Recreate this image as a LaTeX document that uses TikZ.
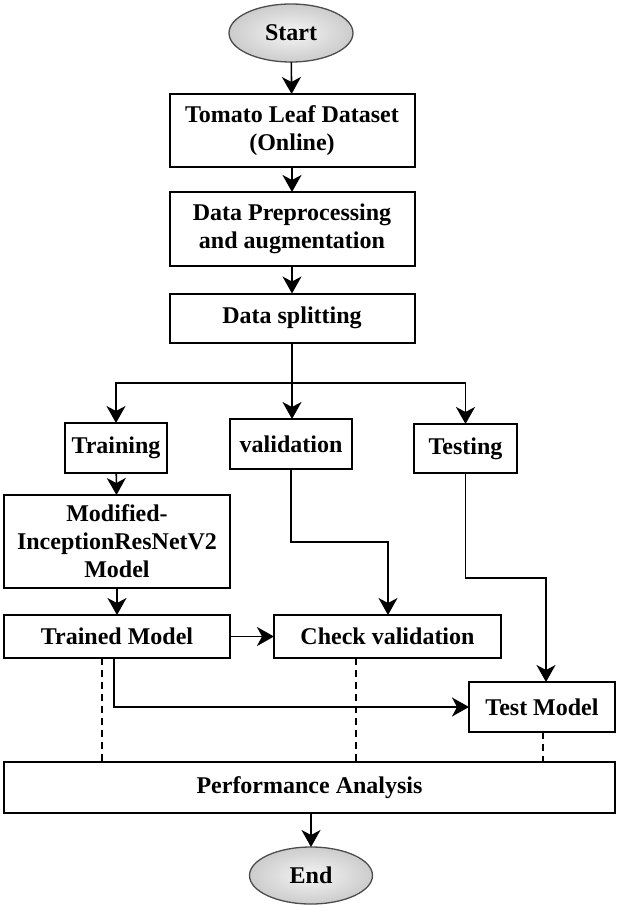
\documentclass[tikz,border=0pt]{standalone}
\usepackage{fontspec}
\setmainfont{Liberation Serif}
\usetikzlibrary{arrows.meta,shapes.geometric,calc}
\begin{document}
\begin{tikzpicture}[x=1pt,y=-1pt,
  every node/.style={font=\fontsize{24}{28}\selectfont\bfseries, inner sep=0pt, outer sep=0pt},
  box/.style={draw=black, line width=2pt, fill=white, align=center},
  term/.style={ellipse, draw=black!70, line width=1.3pt, inner color=gray!8, outer color=gray!40},
  flow/.style={line width=1.6pt, -{Stealth[length=17pt,width=19pt,inset=5pt]}},
  dashline/.style={line width=1.4pt, dash pattern=on 7pt off 5pt}
]
\useasboundingbox (0,0) rectangle (617,905);
\node[term, minimum width=124pt, minimum height=58pt] (start) at (291,33) {Start};
\node[box, minimum width=245pt, minimum height=73pt] (tomato) at (292,130.5) {Tomato Leaf Dataset\\(Online)};
\node[box, minimum width=245pt, minimum height=74pt] (prep) at (292,229) {Data Preprocessing\\and augmentation};
\node[box, minimum width=245pt, minimum height=49pt] (split) at (292,318) {Data splitting};
\node[box, minimum width=102pt, minimum height=50pt] (train) at (116,448) {Training};
\node[box, minimum width=122pt, minimum height=50pt] (valid) at (291,444) {validation};
\node[box, minimum width=103pt, minimum height=49pt] (testing) at (465.5,448.5) {Testing};
\node[box, minimum width=226pt, minimum height=93pt] (model) at (117,541.5) {Modified-\\InceptionResNetV2\\Model};
\node[box, minimum width=226pt, minimum height=43pt] (trained) at (117,636.5) {Trained Model};
\node[box, minimum width=227pt, minimum height=43pt] (check) at (387.5,636.5) {Check validation};
\node[box, minimum width=146pt, minimum height=50pt] (testm) at (542,707) {Test Model};
\node[box, minimum width=611pt, minimum height=51pt] (perf) at (309.5,787.5) {Performance Analysis};
\node[term, minimum width=123pt, minimum height=57pt] (end) at (311,875.5) {End};

\coordinate (junc) at (292,383);
\draw[flow] (start) -- (tomato);
\draw[flow] (tomato) -- (prep);
\draw[flow] (prep) -- (split);
\draw[line width=1.6pt] (split.south) -- (junc);
\draw[flow] (junc) -| (train.north);
\draw[flow] (junc) -| (testing.north);
\draw[flow] (junc) -- (junc |- valid.north);
\draw[flow] (train) -- (model);
\draw[flow] (model) -- (trained);
\draw[flow] (valid.south) -- ++(0,73) -| ([xshift=0.5pt]check.north);
\draw[flow] (testing.south) -- ++(0,105) -| ([xshift=4pt]testm.north);
\draw[flow] (trained) -- (check);
\draw[flow] ([xshift=-3pt]trained.south) |- (testm.west);
\coordinate (d1) at ([xshift=-15pt]trained.south);
\coordinate (d2) at ([xshift=-31.5pt]check.south);
\coordinate (d3) at ([xshift=1pt]testm.south);
\draw[dashline] (d1) -- (d1 |- perf.north);
\draw[dashline] (d2) -- (d2 |- perf.north);
\draw[dashline] (d3) -- (d3 |- perf.north);
\draw[flow] ([xshift=1.5pt]perf.south) -- (end);
\end{tikzpicture}
\end{document}
